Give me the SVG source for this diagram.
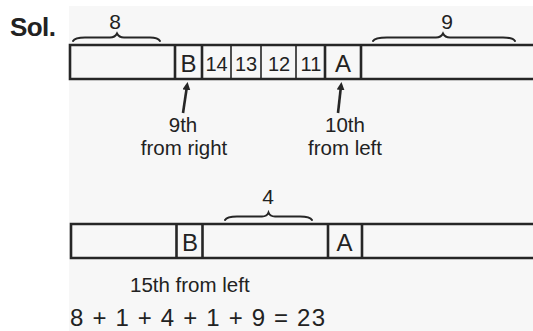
<svg xmlns="http://www.w3.org/2000/svg" width="533" height="331" viewBox="0 0 533 331">
<style>
.t{font-family:"Liberation Sans",Arial,sans-serif;fill:#222;}
.ln{stroke:#262626;stroke-width:2.6;fill:none;}
.thin{stroke:#262626;stroke-width:1.6;fill:none;}
.br{stroke:#262626;stroke-width:2;fill:none;stroke-linecap:round;}
</style>
<defs>
<marker id="ah" markerWidth="8" markerHeight="8" refX="4" refY="4" orient="auto" markerUnits="userSpaceOnUse" viewBox="0 0 8 8">
<path d="M0,0 L8,4 L0,8 z" fill="#262626"/>
</marker>
</defs>
<rect x="0" y="0" width="533" height="331" fill="#ffffff"/>
<rect x="69" y="6" width="464" height="325" fill="#f7f7f7"/>
<text class="t" x="10" y="36" font-size="26" font-weight="bold" textLength="46">Sol.</text>
<g id="top-bar">
<path class="ln" d="M533,45 H70 V79 H533"/>
<path class="ln" d="M175,45 V79 M202,45 V79 M325,45 V79 M361,45 V79"/>
<path class="thin" d="M231,45 V79 M261,45 V79 M296,45 V79"/>
<text class="t" x="188.5" y="72" font-size="24" text-anchor="middle">B</text>
<text class="t" x="216.5" y="71" font-size="20" text-anchor="middle">14</text>
<text class="t" x="246" y="71" font-size="20" text-anchor="middle">13</text>
<text class="t" x="279" y="71" font-size="20" text-anchor="middle">12</text>
<text class="t" x="311" y="71" font-size="20" text-anchor="middle">11</text>
<text class="t" x="343" y="72" font-size="24" text-anchor="middle">A</text>
</g>
<g id="brace-8">
<path class="br" d="M73,41 Q75,37.5 85,37.5 L110,37.5 Q115,37.5 117,33.5 Q119,37.5 124,37.5 L150,37.5 Q158,37.5 160,41"/>
<text class="t" x="115" y="29" font-size="21" text-anchor="middle">8</text>
</g>
<g id="brace-9">
<path class="br" d="M373,41 Q375,37.5 387,37.5 L436,37.5 Q441,37.5 443,33.5 Q445,37.5 450,37.5 L503,37.5 Q513,37.5 515,41"/>
<text class="t" x="447" y="29" font-size="21" text-anchor="middle">9</text>
</g>
<g id="connectors">
<line class="ln" x1="183" y1="113" x2="187" y2="86" marker-end="url(#ah)"/>
<line class="ln" x1="338" y1="113" x2="341" y2="86" marker-end="url(#ah)"/>
</g>
<g id="label-b">
<text class="t" x="183" y="132" font-size="20.5" text-anchor="middle">9th</text>
<text class="t" x="184" y="155" font-size="20.5" text-anchor="middle">from right</text>
</g>
<g id="label-a">
<text class="t" x="345" y="132" font-size="20.5" text-anchor="middle">10th</text>
<text class="t" x="345" y="155" font-size="20.5" text-anchor="middle">from left</text>
</g>
<g id="brace-4">
<path class="br" d="M225,220 Q227,216.5 237,216.5 L262,216.5 Q267,216.5 268.5,212.5 Q270,216.5 275,216.5 L300,216.5 Q310,216.5 312,220"/>
<text class="t" x="268" y="204" font-size="21" text-anchor="middle">4</text>
</g>
<g id="bottom-bar">
<path class="ln" d="M533,224 H71 V258 H533"/>
<path class="ln" d="M176.5,224 V258 M202.5,224 V258 M328,224 V258 M362,224 V258"/>
<text class="t" x="190" y="251" font-size="24" text-anchor="middle">B</text>
<text class="t" x="344.5" y="251" font-size="24" text-anchor="middle">A</text>
</g>
<text class="t" x="130" y="292" font-size="20.5">15th from left</text>
<text class="t" x="70" y="326" font-size="24" textLength="255">8 + 1 + 4 + 1 + 9 = 23</text>
</svg>
